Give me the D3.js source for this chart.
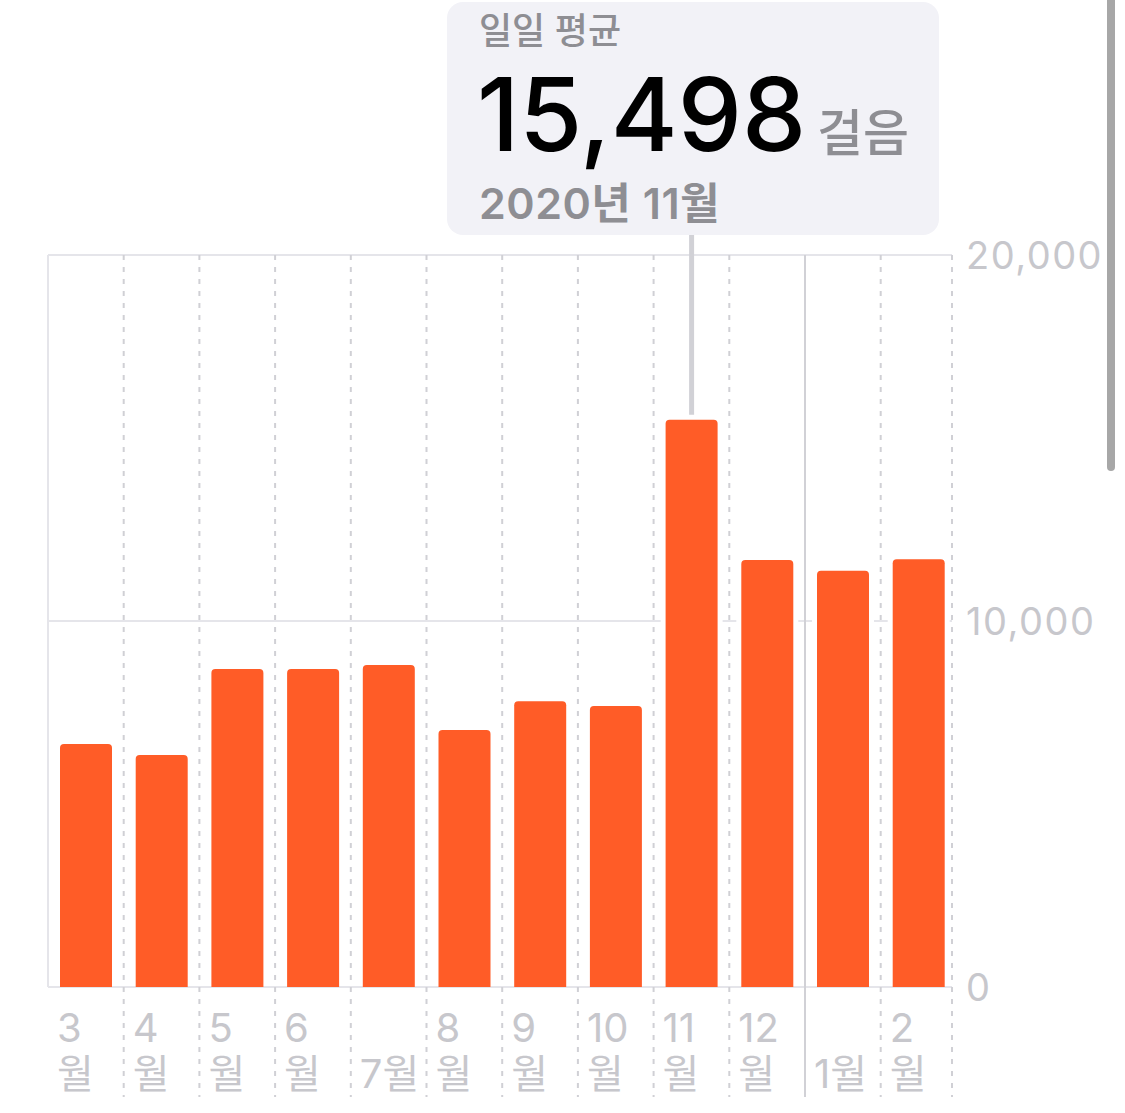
<!DOCTYPE html>
<html>
  <head>
    <meta charset="utf-8">
    <script src="https://d3js.org/d3.v7.min.js"></script>
    <style>
      body {
        margin: 0;
        background: #ffffff;
      }
      text {
        font-family: "Inter", "Noto Sans CJK KR", sans-serif;
      }
    </style>
  </head>
  <body>
    <script type="text/javascript">
      "use strict";

      // months shown on the x axis (March 2020 .. February 2021)
      var months = ["3", "4", "5", "6", "7", "8", "9", "10", "11", "12", "1", "2"];
      // daily average steps per month
      var steps = [6640, 6340, 8690, 8690, 8800, 7020, 7810, 7680, 15498, 11670, 11370, 11690];
      // labels under each bar; two-line ones wrap the number above "월"
      var labelTop = ["3", "4", "5", "6", "", "8", "9", "10", "11", "12", "", "2"];
      var labelBottom = ["월", "월", "월", "월", "7월", "월", "월", "월", "월", "월", "1월", "월"];
      var yTicks = [0, 10000, 20000];

      // selected bar for the callout
      var selected = "11";
      var selectedTitle = "일일 평균";
      var selectedUnit = "걸음";
      var selectedDate = "2020년 11월";

      function draw() {
        var width = 1125,
            height = 1113;
        var plotLeft = 48, plotRight = 952, plotTop = 255, plotBottom = 987;

        var svg = d3.select("body")
          .append("svg")
            .attr("width", width)
            .attr("height", height);

        var x = d3.scaleBand()
            .domain(months)
            .range([plotLeft, plotLeft + 75.7 * months.length]);

        var y = d3.scaleLinear()
            .domain([0, 20000])
            .range([plotBottom, plotTop]);

        var barOffset = 12, barWidth = 52;

        // horizontal grid lines
        svg.selectAll("line.hgrid")
          .data(yTicks)
          .enter()
          .append("line")
            .attr("class", "hgrid")
            .attr("x1", plotLeft)
            .attr("x2", plotRight)
            .attr("y1", function (d) { return y(d); })
            .attr("y2", function (d) { return y(d); })
            .style("stroke", "#e5e5ea")
            .style("stroke-width", 2);

        // left border
        svg.append("line")
            .attr("x1", plotLeft).attr("x2", plotLeft)
            .attr("y1", plotTop).attr("y2", plotBottom)
            .style("stroke", "#e5e5ea")
            .style("stroke-width", 2);

        // vertical month separators; the one between December and January is solid
        var seps = months.slice(1).concat(["end"]);
        svg.selectAll("line.vgrid")
          .data(seps)
          .enter()
          .append("line")
            .attr("class", "vgrid")
            .attr("x1", function (d) { return d === "end" ? plotRight : x(d); })
            .attr("x2", function (d) { return d === "end" ? plotRight : x(d); })
            .attr("y1", plotTop)
            .attr("y2", 1097)
            .style("stroke", function (d) { return d === "1" ? "#d1d1d6" : "#d0d0d5"; })
            .style("stroke-width", 2)
            .style("stroke-dasharray", function (d) { return d === "1" ? null : "5,7"; });

        // top-rounded bar path
        function barPath(m, v) {
          var x0 = x(m) + barOffset, x1 = x0 + barWidth;
          var y0 = y(v), y1 = y(0), r = 4;
          return "M" + x0 + "," + y1 +
                 "V" + (y0 + r) +
                 "Q" + x0 + "," + y0 + " " + (x0 + r) + "," + y0 +
                 "H" + (x1 - r) +
                 "Q" + x1 + "," + y0 + " " + x1 + "," + (y0 + r) +
                 "V" + y1 + "Z";
        }

        // white halo behind bars so the grid line stops short of them
        svg.selectAll("rect.halo")
          .data(months)
          .enter()
          .append("rect")
            .attr("class", "halo")
            .attr("x", function (d) { return x(d) + barOffset - 5; })
            .attr("width", barWidth + 10)
            .attr("y", function (d, i) { return y(steps[i]) - 5; })
            .attr("height", function (d, i) { return y(0) - y(steps[i]) + 4; })
            .style("fill", "#ffffff");

        svg.selectAll("path.bar")
          .data(months)
          .enter()
          .append("path")
            .attr("class", "bar")
            .attr("d", function (d, i) { return barPath(d, steps[i]); })
            .style("fill", "#ff5c27");

        // y tick labels on the right
        svg.selectAll("text.ytick")
          .data(yTicks)
          .enter()
          .append("text")
            .attr("class", "ytick")
            .attr("x", 966)
            .attr("y", function (d) { return y(d) + 14; })
            .style("font-size", "38px")
            .style("letter-spacing", "1.5px")
            .style("fill", "#c7c7cc")
            .text(function (d) { return d3.format(",")(d); });

        // month labels
        svg.selectAll("text.mtop")
          .data(months)
          .enter()
          .append("text")
            .attr("class", "mtop")
            .attr("x", function (d) { return x(d) + 9; })
            .attr("y", 1042)
            .style("font-size", "40px")
            .style("fill", "#c7c7cc")
            .text(function (d, i) { return labelTop[i]; });

        svg.selectAll("text.mbottom")
          .data(months)
          .enter()
          .append("text")
            .attr("class", "mbottom")
            .attr("x", function (d) { return x(d) + 9; })
            .attr("y", 1088)
            .style("font-size", "40px")
            .style("fill", "#c7c7cc")
            .text(function (d, i) { return labelBottom[i]; });

        // callout for the selected month
        var si = months.indexOf(selected);
        var cx = x(selected) + barOffset + barWidth / 2;

        svg.append("line")
            .attr("x1", cx).attr("x2", cx)
            .attr("y1", 234)
            .attr("y2", y(steps[si]) - 5)
            .style("stroke", "#d1d1d6")
            .style("stroke-width", 5);

        var box = svg.append("g");
        box.append("rect")
            .attr("x", 447)
            .attr("y", 2)
            .attr("width", 492)
            .attr("height", 233)
            .attr("rx", 16)
            .style("fill", "#f2f2f7");

        box.append("text")
            .attr("x", 479)
            .attr("y", 44)
            .style("font-size", "36px")
            .style("font-weight", 500)
            .style("fill", "#8e8e93")
            .text(selectedTitle);

        var big = box.append("text")
            .attr("x", 477)
            .attr("y", 151);
        big.append("tspan")
            .style("font-size", "102px")
            .style("font-weight", 500)
            .style("fill", "#000000")
            .text(d3.format(",")(steps[si]));
        big.append("tspan")
            .attr("dx", 11)
            .style("font-size", "50px")
            .style("font-weight", 500)
            .style("fill", "#8e8e93")
            .text(selectedUnit);

        box.append("text")
            .attr("x", 479)
            .attr("y", 219)
            .style("font-size", "43px")
            .style("font-weight", 600)
            .style("letter-spacing", "0.5px")
            .style("fill", "#8e8e93")
            .text(selectedDate);

        // scroll indicator at the right edge
        svg.append("rect")
            .attr("x", 1107)
            .attr("y", -10)
            .attr("width", 8)
            .attr("height", 481)
            .attr("rx", 4)
            .style("fill", "#a7a7a7");
      }

      draw();
    </script>
  </body>
</html>
